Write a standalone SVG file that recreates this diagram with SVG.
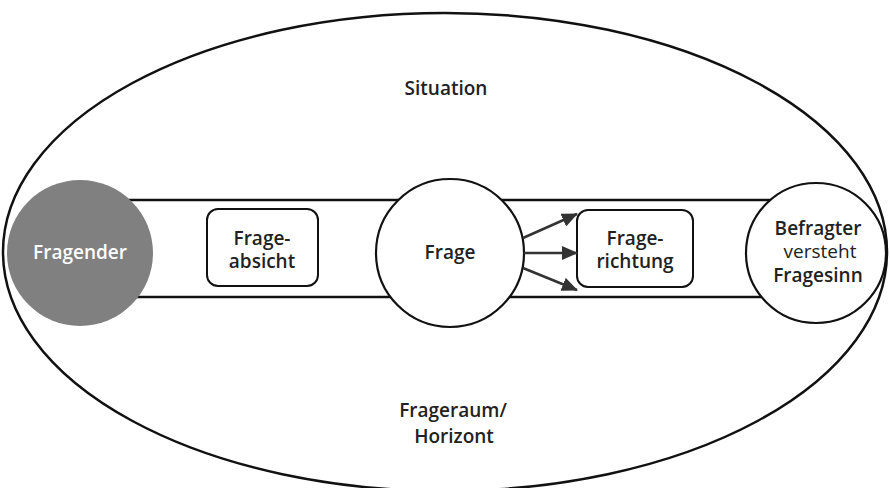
<svg xmlns="http://www.w3.org/2000/svg" width="890" height="488" viewBox="0 0 890 488">
<defs>
<style>
.ln{fill:none;stroke:#111;stroke-width:2.5}
.wc{fill:#fff;stroke:#111;stroke-width:2.2}
.box{fill:#fff;stroke:#111;stroke-width:2}
.t{font-family:"Open Sans","Liberation Sans",sans-serif;font-weight:600;font-size:19px;fill:#222;text-anchor:middle}
.r{font-weight:400}
.w{fill:#fff}
.ar{stroke:#333;stroke-width:2.5;fill:none}
</style>
<marker id="ah" viewBox="0 0 16 14" refX="15" refY="7" markerWidth="16" markerHeight="14" markerUnits="userSpaceOnUse" orient="auto">
<path d="M0,0 L16,7 L0,14 Z" fill="#333"/>
</marker>
</defs>
<rect width="890" height="488" fill="#fff"/>
<g id="horizont">
<ellipse class="ln" cx="445" cy="252" rx="442" ry="239"/>
<text class="t" x="446" y="95">Situation</text>
<text class="t" x="453" y="417">Frageraum/</text>
<text class="t" x="454" y="443">Horizont</text>
</g>
<g id="band">
<rect class="ln" x="120" y="200" width="680" height="97"/>
</g>
<g id="fragender">
<circle cx="80" cy="253" r="73" fill="#808080"/>
<text class="t w" x="80" y="259">Fragender</text>
</g>
<g id="frageabsicht">
<rect class="box" x="207" y="209" width="111" height="77" rx="11"/>
<text class="t" x="262" y="245">Frage-</text>
<text class="t" x="262" y="268">absicht</text>
</g>
<g id="frage">
<circle class="wc" cx="450" cy="253" r="74"/>
<text class="t" x="450" y="259">Frage</text>
</g>
<g id="fragerichtung">
<rect class="box" x="577" y="210" width="116" height="77" rx="11"/>
<text class="t" x="635" y="245">Frage-</text>
<text class="t" x="635" y="268">richtung</text>
</g>
<g id="befragter">
<circle class="wc" cx="816" cy="253" r="70"/>
<text class="t" x="818" y="235">Befragter</text>
<text class="t r" x="820" y="258">versteht</text>
<text class="t" x="818" y="282">Fragesinn</text>
</g>
<g id="connectors">
<line class="ar" x1="523" y1="238" x2="577" y2="214" marker-end="url(#ah)"/>
<line class="ar" x1="524" y1="253" x2="577" y2="253" marker-end="url(#ah)"/>
<line class="ar" x1="523" y1="268" x2="577" y2="290" marker-end="url(#ah)"/>
</g>
</svg>
